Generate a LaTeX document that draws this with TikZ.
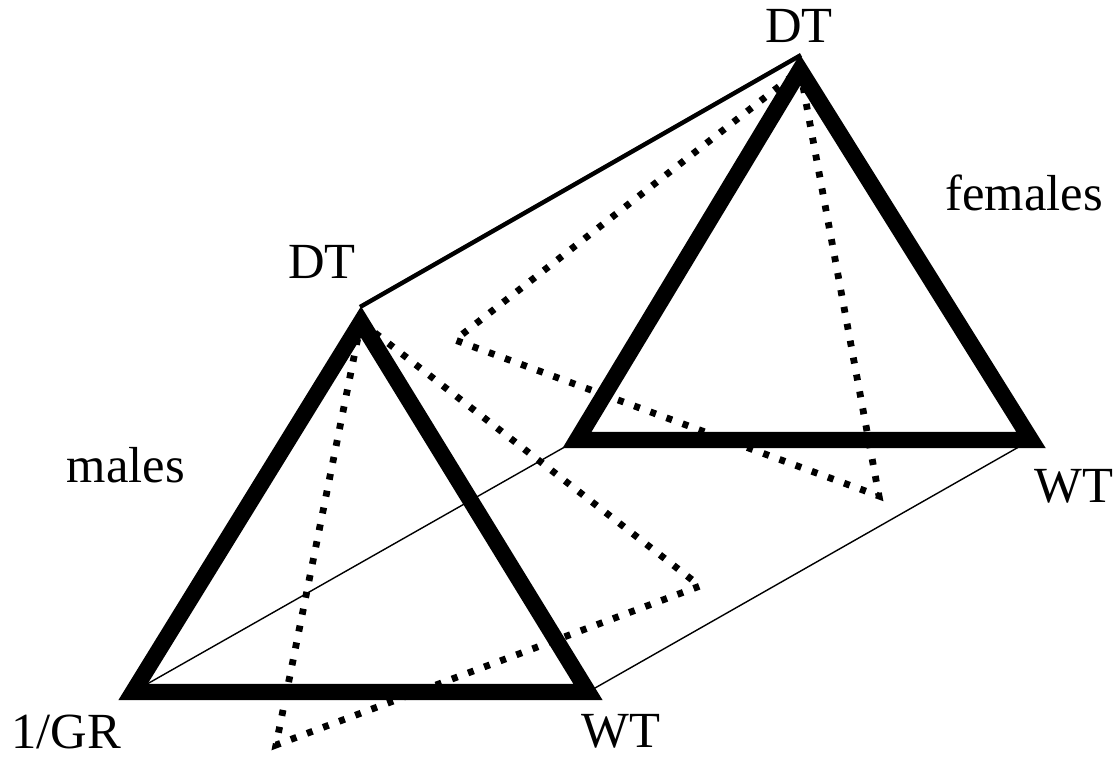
\documentclass[tikz,border=0pt]{standalone}
\usepackage{fontspec}
\setmainfont{Liberation Serif}
\usetikzlibrary{positioning}

\begin{document}
\begin{tikzpicture}[
            x=0.025cm, y=-0.025cm,
            side/.style={draw=black, line width=0.41cm, line join=miter},
            ridge/.style={draw=black, line width=0.11cm},
            edge/.style={draw=black, line width=1pt},
            dotline/.style={draw=black, line width=0.17cm, dash pattern=on 0.15cm off 0.28cm},
            vlabel/.style={font=\fontsize{36}{43}\selectfont, inner sep=0pt, anchor=base}
        ]
            \useasboundingbox (0,0) rectangle (1120,759);

            % MALES (front)
            \coordinate (mTop) at (361,322);
            \coordinate (mLeft) at (133,692);
            \coordinate (mRight) at (588,692);
            \coordinate (mTip) at (360,307);
            \coordinate (mFoot) at (276,745);
            \coordinate (mSide) at (700,586);

            % FEMALES (back)
            \coordinate (fTop) at (800,70);
            \coordinate (fLeft) at (577,440);
            \coordinate (fRight) at (1031,440);
            \coordinate (fTip) at (801,55);
            \coordinate (fFoot) at (879,496);
            \coordinate (fSide) at (455,340);

            % prism
            \draw[edge] (mLeft) -- (fLeft);
            \draw[edge] (mRight) -- (fRight);
            \draw[ridge] (mTip) -- (fTip);

            \draw[dotline] (mTop) -- (mFoot) -- (mSide) -- cycle;
            \draw[dotline] (fTop) -- (fFoot) -- (fSide) -- cycle;

            \draw[side] (fTop) -- (fLeft) -- (fRight) -- cycle;
            \draw[side] (mTop) -- (mLeft) -- (mRight) -- cycle;

            % labels
            \node[vlabel] (mDT) at (322,278) {DT};
            \node[vlabel] (fDT) at (799,42) {DT};
            \node[vlabel] (fLab) at (1024,210) {females};
            \node[vlabel] (mLab) at (126,482) {males};
            \node[vlabel] (gr) at (66,748) {1/GR};
            \node[vlabel] (mWT) at (621,747) {WT};
            \node[vlabel] (fWT) at (1074,502) {WT};
        \end{tikzpicture}
\end{document}
